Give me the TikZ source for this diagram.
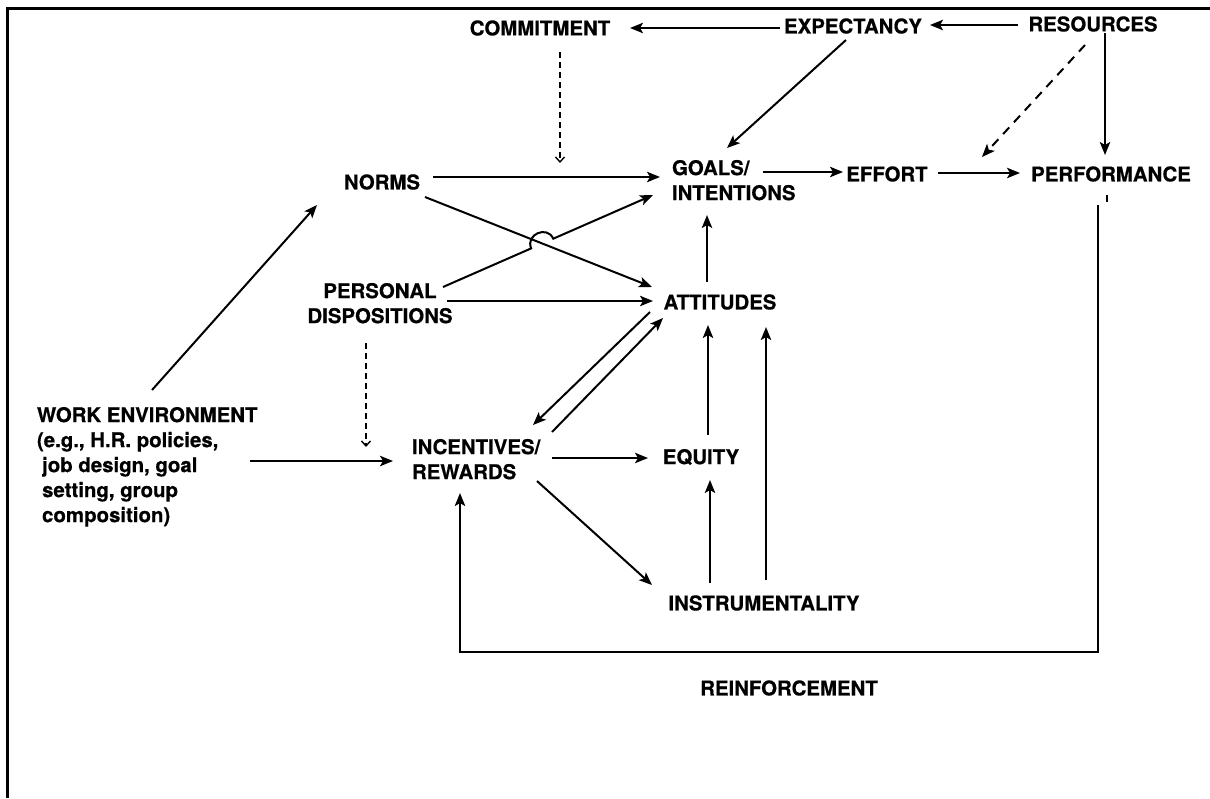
\documentclass[tikz,border=0pt]{standalone}
\usepackage{fontspec}
\setmainfont{TeX Gyre Heros}[BoldFeatures={FakeBold=0.6}]
\usetikzlibrary{arrows.meta,calc}
\begin{document}
\begin{tikzpicture}[x=0.5pt,y=-0.5pt,
  lbl/.style={font=\fontsize{10.2}{12.5}\selectfont\bfseries, inner sep=0pt, outer sep=0pt},
  conn/.style={line width=1pt, -{Stealth[length=6.5pt,width=5.2pt,inset=1.5pt]}},
  thinline/.style={line width=1pt},
  dashlink/.style={line width=0.7pt, dash pattern=on 3pt off 2pt, -{Straight Barb[length=2.5pt,width=4.5pt]}},
  dashconn/.style={line width=1pt, dash pattern=on 4.5pt off 3.5pt, -{Stealth[length=6.5pt,width=5.2pt,inset=1.5pt]}},
  frame/.style={line width=1.5pt}]
\useasboundingbox (0,0) rectangle (1210,798);
% open frame: left and top rules
\draw[frame] (7,798) -- (7,8) -- (1210,8);

% labels
\node[lbl] (commit) at (540,28) {COMMITMENT};
\node[lbl] (expect) at (853,26) {EXPECTANCY};
\node[lbl] (res) at (1093,24) {RESOURCES};
\node[lbl] (norms) at (382,182) {NORMS};
\node[lbl, align=left, anchor=north west] (goals) at (672,160) {GOALS/\\INTENTIONS};
\node[lbl] (effort) at (887,174) {EFFORT};
\node[lbl] (perf) at (1111,174) {PERFORMANCE};
\node[lbl, align=center, anchor=north] (pers) at (380,283) {PERSONAL\\DISPOSITIONS};
\node[lbl] (att) at (720,302) {ATTITUDES};
\node[lbl, align=left, anchor=north west] (incent) at (412,439) {INCENTIVES/\\REWARDS};
\node[lbl] (equity) at (701,457) {EQUITY};
\node[lbl] (instr) at (764,603) {INSTRUMENTALITY};
\node[lbl] (reinf) at (789,688) {REINFORCEMENT};
\node[lbl, align=left, anchor=north west] (work) at (37,407)
  {WORK ENVIRONMENT\\(e.g., H.R. policies,\\\hspace*{0.25em}job design, goal\\\hspace*{0.25em}setting, group\\\hspace*{0.25em}composition)};

% top row
\draw[conn] ($(expect)+(-73,2)$) -- ($(commit)+(90,0)$);
\draw[conn] ($(res)+(-75,1)$) -- ($(expect)+(77,-1)$);
\draw[dashlink] ($(commit)+(20,24)$) -- ($(commit)+(20,135)$);
\draw[conn] ($(expect)+(-7,14)$) -- ($(goals.north west)+(55,-12)$);
\draw[conn] ($(res)+(12,9)$) -- ($(perf)+(-6,-19)$);
\draw[dashconn] ($(res)+(-8,21)$) -- ($(effort)+(95,-17)$);

% goals row
\draw[conn] ($(norms)+(51,-5)$) -- ($(goals.north west)+(-12,17)$);
\draw[conn] ($(goals.north west)+(91,12)$) -- ($(effort)+(-44,-2)$);
\draw[conn] ($(effort)+(51,-1)$) -- ($(perf)+(-91,-1)$);

% norms and dispositions
\draw[conn] ($(norms)+(43,15)$) -- ($(att)+(-68,-15)$);
\coordinate (hs) at ($(pers.north)+(63,4)$);
\coordinate (he) at ($(goals.north west)+(-19,35)$);
\draw[conn] (hs) -- ($(hs)!0.42!(he)$) to[bend left=90, looseness=1.6] ($(hs)!0.525!(he)$) -- (he);
\draw[conn] ($(pers.north)+(67,18)$) -- ($(att)+(-67,-1)$);
\draw[dashlink] ($(pers.north)+(-14,60)$) -- ($(incent.north west)+(-46,8)$);

% attitudes and goals
\draw[conn] ($(att)+(-13,-20)$) -- ($(goals.north west)+(35,55)$);

% incentives, equity, instrumentality
\draw[conn] ($(att)+(-70,10)$) -- ($(incent.north west)+(121,-14)$);
\draw[conn] ($(incent.north west)+(140,-7)$) -- ($(att)+(-57,16)$);
\draw[conn] ($(incent.north west)+(140,19)$) -- ($(equity)+(-53,1)$);
\draw[conn] ($(equity)+(7,-22)$) -- ($(att)+(-12,23)$);
\draw[conn] ($(instr)+(-54,-20)$) -- ($(equity)+(9,23)$);
\draw[conn] ($(instr)+(2,-23)$) -- ($(att)+(46,25)$);
\draw[conn] ($(incent.north west)+(125,42)$) -- ($(instr)+(-112,-18)$);

% work environment
\draw[conn] ($(work.north west)+(213,54)$) -- ($(incent.north west)+(-19,22)$);
\draw[conn] ($(work.north west)+(115,-17)$) -- ($(norms)+(-65,23)$);

% reinforcement loop
\draw[thinline] ($(perf)+(-4,21)$) -- ++(0,7);
\draw[conn] ($(perf)+(-13,31)$) -- ++(0,447) -| ($(incent.north west)+(48,54)$);
\end{tikzpicture}
\end{document}
